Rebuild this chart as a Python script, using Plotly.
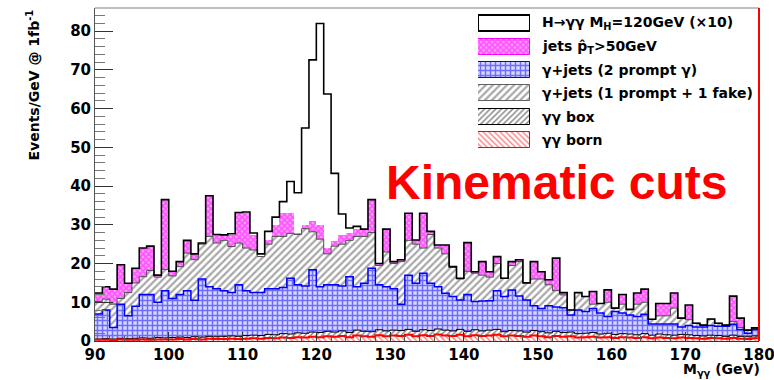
import numpy as np
import plotly.graph_objects as go

# ---------------- data ----------------
# 1 GeV bins, lower edges 90 ... 179
bin_low = list(range(90, 180))

# cumulative stack levels (Events/GeV @ 1fb^-1)
born = [0.3,0.3,0.2,0.4,0.3,0.3,0.4,0.3,0.4,0.4, 0.4,0.5,0.4,0.5,0.4,0.6,0.5,0.5,0.6,0.5,
        0.6,0.7,0.6,0.8,0.7,0.9,0.8,1.0,0.9,1.1, 1.0,1.2,1.1,1.3,1.0,1.4,1.2,1.1,1.5,1.2,
        1.4,1.3,1.6,1.2,1.5,1.3,1.7,1.4,1.3,1.6, 1.2,1.5,1.3,1.4,1.6,1.2,1.4,1.3,1.1,1.4,
        1.2,1.0,1.3,1.1,1.2,0.9,1.0,1.1,0.9,1.0, 0.8,1.0,0.9,0.8,1.0,0.7,0.9,0.8,0.7,0.9,
        0.8,0.7,0.6,0.8,0.7,0.6,0.8,0.6,0.5,0.7]
box_stack = [0.5,0.6,0.5,0.7,0.6,0.7,0.8,0.7,0.9,0.8, 0.9,1.0,0.9,1.1,1.0,1.2,1.1,1.2,1.3,1.2,
             1.4,1.5,1.4,1.7,1.6,1.9,1.8,2.1,2.0,2.3, 2.2,2.5,2.3,2.6,2.2,2.8,2.5,2.4,2.9,2.6,
             2.8,2.7,3.0,2.5,2.9,2.7,3.1,2.8,2.6,3.0, 2.5,2.9,2.6,2.8,3.0,2.4,2.7,2.6,2.3,2.7,
             2.4,2.1,2.5,2.2,2.3,1.9,2.0,2.2,1.8,2.0, 1.7,1.9,1.8,1.6,1.9,1.5,1.8,1.6,1.5,1.7,
             1.6,1.4,1.3,1.5,1.4,1.2,1.5,1.2,1.1,1.3]
prompt_stack = [7.0,8.0,3.5,9.5,6.5,9.0,12.0,12.0,10.0,13.0, 11.0,12.0,13.0,10.5,16.0,14.0,13.5,13.0,12.5,14.5,
                13.0,12.5,12.5,13.5,13.5,13.8,16.2,14.5,14.2,18.4, 14.0,14.5,14.5,14.2,16.6,14.0,14.9,18.8,14.5,14.0,
                13.5,9.5,17.0,14.9,17.5,14.9,14.0,12.3,11.5,10.6, 12.0,10.2,10.3,10.4,13.0,11.5,13.2,11.6,10.6,9.1,
                8.4,9.1,8.8,8.6,6.7,8.0,7.6,8.4,7.2,6.3, 7.6,7.2,6.7,6.3,6.9,4.4,4.4,4.4,4.4,3.6,
                4.0,3.6,3.6,4.0,3.8,3.8,4.3,3.0,2.0,3.0]
fake_stack = [10.2,10.8,9.5,11.0,12.5,15.0,16.6,18.2,16.5,18.5, 16.8,19.2,22.7,21.0,25.0,27.0,25.3,26.0,24.4,25.3,
              24.0,23.5,21.8,25.0,27.0,27.0,27.8,27.5,29.0,28.2, 26.3,22.5,24.5,25.0,26.0,27.0,27.0,28.0,19.5,23.0,
              20.0,20.5,26.0,25.0,24.0,27.5,24.0,22.5,19.0,16.0, 18.0,17.5,17.0,16.5,20.0,16.2,19.5,20.5,15.0,16.0,
              16.0,14.5,13.0,11.9,8.0,12.5,11.5,9.5,9.7,10.0, 8.5,9.5,8.0,9.5,10.0,5.6,6.5,6.5,8.5,5.9,
              5.5,4.6,4.1,5.6,4.6,4.1,5.0,3.5,2.8,3.3]
jets_stack = [12.4,14.0,13.4,19.7,14.9,18.8,24.0,24.5,17.0,36.5, 18.0,20.5,26.0,22.5,25.3,37.5,27.5,27.4,27.5,33.0,
              33.0,27.5,22.0,26.0,30.0,33.0,33.0,28.0,30.0,31.0, 30.0,24.0,25.7,27.4,28.0,29.0,28.7,36.5,20.0,28.9,
              20.5,21.0,33.0,26.1,33.0,28.3,24.8,24.8,19.2,16.2, 25.4,17.9,20.5,17.9,21.8,16.2,20.5,21.0,15.0,20.5,
              17.9,15.8,21.4,12.5,8.0,12.5,11.5,12.8,9.7,13.2, 8.5,12.0,8.2,12.4,13.4,5.6,9.7,9.7,12.4,5.9,
              9.3,4.6,4.1,5.7,4.6,4.1,11.6,5.9,2.8,3.4]
# H->gg (MH=120 GeV) x10, stacked on top of the background
signal_x10 = [0]*18 + [0.2,0.2,0.3,0.4,0.5,2.3,2.0,3.0,8.2,10.3,25.0,41.6,52.0,39.8,17.6,5.4,1.2,0.6,0.2] + [0]*53

legend_labels = ["H\u2192\u03b3\u03b3 M<sub>H</sub>=120GeV (\u00d710)",
                 "jets p\u0302<sub>T</sub>>50GeV",
                 "\u03b3+jets (2 prompt \u03b3)",
                 "\u03b3+jets (1 prompt + 1 fake)",
                 "\u03b3\u03b3 box",
                 "\u03b3\u03b3 born"]

# ---------------- figure ----------------
lo = np.array(bin_low, dtype=float)
centers = lo + 0.5
edges = np.append(lo, lo[-1] + 1)
total_sig = np.array(jets_stack) + np.array(signal_x10)

ROOTFONT = "DejaVu Sans"
fig = go.Figure()

# (fg colour, bg colour, pattern shape, size, solidity)
STYLE = {
    "jets":   ("#ff00ff", "#ffa8ff", "x", 4, 0.7),
    "fake":   ("#505050", "#ffffff", "/", 5, 0.45),
    "prompt": ("#0000ff", "#d8d8ff", "+", 5, 0.5),
    "box":    ("#000000", "#ffffff", "/", 4, 0.35),
    "born":   ("#ff0000", "#ffffff", "\\", 4, 0.35),
}

def hbar(vals, key):
    fg, bg, shape, size, sol = STYLE[key]
    fig.add_trace(go.Bar(
        x=centers, y=vals, width=1.0, name=key, showlegend=False,
        marker=dict(color=bg, line=dict(width=0),
                    pattern=dict(shape=shape, fgcolor=fg, bgcolor=bg,
                                 size=size, solidity=sol, fillmode="overlay"))))

def step(vals, color, w):
    yy = list(vals) + [vals[-1]]
    fig.add_trace(go.Scatter(x=edges, y=yy, mode="lines", line_shape="hv",
                             line=dict(color=color, width=w),
                             showlegend=False, hoverinfo="skip"))

hbar(jets_stack, "jets")
hbar(fake_stack, "fake")
hbar(prompt_stack, "prompt")
hbar(box_stack, "box")
hbar(born, "born")

step(fake_stack, "#505050", 1)
step(prompt_stack, "#0000ff", 1.5)
step(box_stack, "#000000", 1)
step(born, "#ff0000", 2)
step(list(total_sig), "#000000", 1.6)

# legend swatches on an auxiliary (hidden) axis pair; y2 value = pixel row - 8
LEG_BOTTOM_PX = 152
x0p, x1p = (478 - 95) / 664, (530 - 95) / 664
leg_rows = [23.3, 46.6, 70.0, 93.3, 116.7, 140.0]   # pixel rows of entries
sw = [(None, "#000000", 2), ("jets", "#ff00ff", 1), ("prompt", "#0000ff", 1),
      ("fake", "#606060", 1), ("box", "#000000", 1), ("born", "#ff0000", 1)]
for (key, lc, lw), r in zip(sw, leg_rows):
    if key is None:
        mk = dict(color="white", line=dict(color=lc, width=lw))
    else:
        fg, bg, shape, size, sol = STYLE[key]
        mk = dict(color=bg, line=dict(color=lc, width=lw),
                  pattern=dict(shape=shape, fgcolor=fg, bgcolor=bg, size=size,
                               solidity=sol, fillmode="overlay"))
    fig.add_trace(go.Bar(x=[0.5], y=[16], base=[r - 8 - 8], width=[1.0], xaxis="x2", yaxis="y2",
                         showlegend=False, hoverinfo="skip", marker=mk))

annotations = []
for lab, r in zip(legend_labels, leg_rows):
    annotations.append(dict(x=(540 - 95) / 664, y=(341 - r) / 333, xref="paper", yref="paper",
                            text=lab, showarrow=False, xanchor="left", yanchor="middle",
                            font=dict(family=ROOTFONT, size=14, color="black", weight="bold")))
annotations.append(dict(x=(556 - 95) / 664, y=(341 - 182) / 333, xref="paper", yref="paper",
                        text="Kinematic cuts", showarrow=False, xanchor="center", yanchor="middle",
                        font=dict(family="Liberation Sans", size=48, color="#ff0000", weight="bold")))
annotations.append(dict(x=1.005, y=(341 - 359) / 333, xref="paper", yref="paper",
                        text="M<sub>\u03b3\u03b3</sub> (GeV)", showarrow=False, xanchor="right", yanchor="top",
                        font=dict(family=ROOTFONT, size=14, color="black", weight="bold")))
annotations.append(dict(x=(33 - 95) / 664, y=1.0, xref="paper", yref="paper", textangle=-90,
                        text="Events/GeV @ 1fb<sup>-1</sup>", showarrow=False, xanchor="center", yanchor="top",
                        font=dict(family=ROOTFONT, size=14, color="black", weight="bold")))

axfont = dict(family=ROOTFONT, size=15, color="black", weight="bold")
fig.update_layout(
    width=774, height=380, margin=dict(l=95, r=15, t=8, b=39, autoexpand=False),
    paper_bgcolor="white", plot_bgcolor="rgba(0,0,0,0)", barmode="overlay", bargap=0,
    showlegend=False, annotations=annotations,
    xaxis=dict(range=[90, 180], tickvals=list(range(90, 181, 10)), ticks="inside", ticklen=9,
               tickcolor="#333", showline=True, linecolor="#333", linewidth=1, showgrid=False,
               zeroline=False, tickfont=axfont, ticklabeloverflow="allow", automargin=False,
               minor=dict(ticks="inside", ticklen=5, dtick=2, tickcolor="#555")),
    yaxis=dict(range=[0, 86], tickvals=list(range(0, 81, 10)), ticks="inside", ticklen=18,
               tickcolor="#333", showline=True, linecolor="#555", linewidth=1, showgrid=False,
               zeroline=False, tickfont=axfont, ticklabeloverflow="allow", automargin=False,
               minor=dict(ticks="inside", ticklen=10, dtick=2, tickcolor="#777")),
    xaxis2=dict(domain=[x0p, x1p], range=[0, 1], anchor="y2", visible=False, fixedrange=True),
    yaxis2=dict(domain=[(341 - LEG_BOTTOM_PX) / 333, 1], range=[LEG_BOTTOM_PX - 8, 0], anchor="x2",
                visible=False, fixedrange=True),
    shapes=[dict(type="line", xref="paper", yref="paper", x0=0, x1=1, y0=1, y1=1,
                 line=dict(color="#aaaaaa", width=1.5)),
            dict(type="line", xref="paper", yref="paper", x0=1, x1=1, y0=0, y1=1,
                 line=dict(color="#ff0000", width=2))],
)

fig.write_html("out.html")
